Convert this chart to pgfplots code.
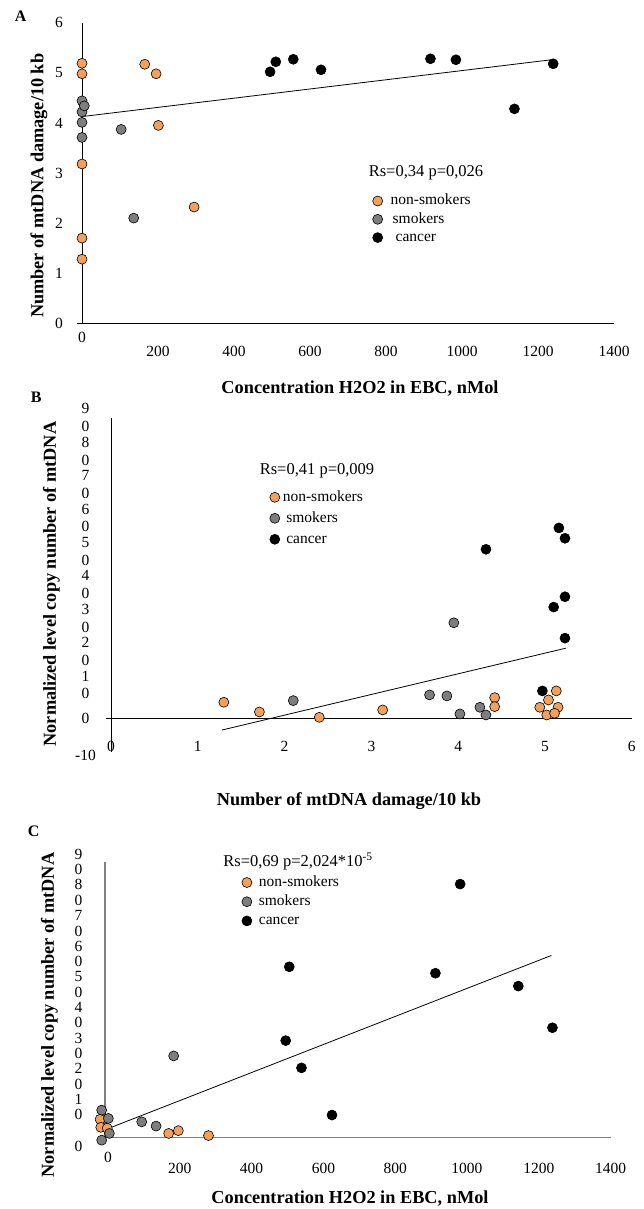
\documentclass[border=0pt]{standalone}
\usepackage{fontspec}
\setmainfont{Liberation Serif}
\usepackage{pgfplots}
\pgfplotsset{compat=1.18}
\definecolor{nsmc}{RGB}{244,160,88}
\definecolor{smkc}{RGB}{125,125,125}
\definecolor{axg}{RGB}{128,128,128}
\newcommand{\tf}{\fontsize{15.5}{17.7}\selectfont}
\newcommand{\tfc}{\fontsize{15.5}{15.5}\selectfont}
\newcommand{\lf}{\fontsize{15.5}{17}\selectfont}
\newcommand{\rf}{\fontsize{16.5}{19}\selectfont}
\newcommand{\hf}{\fontsize{18.3}{21}\selectfont\bfseries}
\pgfplotsset{
 myax/.style={scale only axis, clip=false,
   major tick length=0pt,
   hide obscured x ticks=false, hide obscured y ticks=false,
   /pgf/number format/assume math mode=true, /pgf/number format/1000 sep={},
   tick label style={font=\tf},
   legend cell align=left,
   legend style={draw=none, fill=none, inner sep=0pt, font=\lf,
     nodes={inner sep=0pt, text height=10.5pt, text depth=3pt}},
 },
 nolinearrows/.style={
   axis line style={-,line width=#1},
   x axis line style={-}, y axis line style={-},
   every inner x axis line/.append style={-},
   every inner y axis line/.append style={-},
   every outer x axis line/.append style={-},
   every outer y axis line/.append style={-},
 },
 nsm/.style={only marks, mark=*, mark size=5pt,
   mark options={fill=nsmc, draw=black, line width=0.6pt},
   legend image code/.code={\draw[##1] plot coordinates {(0pt,0pt)};}},
 smk/.style={only marks, mark=*, mark size=5pt,
   mark options={fill=smkc, draw=black, line width=0.6pt},
   legend image code/.code={\draw[##1] plot coordinates {(0pt,0pt)};}},
 cnc/.style={only marks, mark=*, mark size=5pt,
   mark options={fill=black, draw=black, line width=0.6pt},
   legend image code/.code={\draw[##1] plot coordinates {(0pt,0pt)};}},
 trend/.style={black, line width=0.8pt, no marks, forget plot},
}
\begin{document}
\begin{tikzpicture}
\path[use as bounding box] (0pt,0pt) rectangle (644pt,-1209pt);

% ---------------- Panel A ----------------
\begin{axis}[myax, at={(76.7pt,-323.3pt)}, anchor=south west,
 width=537.3pt, height=300.6pt,
 xmin=-14, xmax=1400, ymin=0, ymax=6,
 axis x line=middle, axis y line=middle,
 nolinearrows=0.8pt,
 xtick={200,400,...,1400}, ytick={0,1,...,6},
 extra x ticks={0}, extra x tick labels={0},
 extra x tick style={xticklabel style={yshift=14pt}},
 xticklabel style={anchor=center, yshift=-28pt},
 yticklabel style={anchor=center, xshift=-23pt},
 legend style={at={(0.5505,0.346)}, anchor=west, row sep=4.8pt},
]
\addplot[trend] coordinates {(4,4.13) (1235,5.26)};
\addplot[nsm] coordinates {(0,5.19) (0,4.98) (0,3.18) (0,1.70) (0,1.28) (165,5.17) (195,4.98) (201,3.95) (295,2.32)};
\addlegendentry{\hspace*{8pt}non-smokers}
\addplot[smk] coordinates {(0,4.44) (0,4.22) (0,4.01) (0,3.71) (103,3.87) (136,2.10) (6,4.34)};
\addlegendentry{\hspace*{10pt}smokers}
\addplot[cnc] coordinates {(495,5.02) (510,5.22) (556,5.27) (629,5.06) (917,5.28) (984,5.26) (1138,4.28) (1240,5.18)};
\addlegendentry{\hspace*{13pt}cancer}
\end{axis}

% ---------------- Panel B ----------------
\begin{axis}[myax, at={(106.2pt,-751.7pt)}, anchor=south west,
 width=525.6pt, height=334pt,
 xmin=-0.055, xmax=6, ymin=-10, ymax=90,
 axis x line=middle, axis y line=middle,
 nolinearrows=0.8pt,
 xtick={0,1,...,6},
 ytick={0,10,...,90},
 yticklabels={0,{1\\0},{2\\0},{3\\0},{4\\0},{5\\0},{6\\0},{7\\0},{8\\0},{9\\0}},
 extra y ticks={-10}, extra y tick labels={-10},
 extra y tick style={yticklabel style={yshift=-4pt}},
 xticklabel style={anchor=center, yshift=-28pt},
 yticklabel style={anchor=center, align=center, xshift=-25.5pt},
 legend style={at={(0.3109,0.6988)}, anchor=west, row sep=7.5pt},
]
\addplot[trend] coordinates {(1.28,-3.5) (5.24,21.0)};
\addplot[nsm] coordinates {(1.30,4.8) (1.71,1.9) (2.40,0.3) (3.13,2.5) (4.42,6.2) (4.42,3.5) (5.13,8.2) (5.04,5.5) (4.94,3.3) (5.15,3.3) (5.02,1.0) (5.11,1.5)};
\addlegendentry{\hspace*{3pt}non-smokers}
\addplot[smk] coordinates {(2.10,5.3) (3.67,7.0) (3.87,6.7) (3.95,28.6) (4.02,1.3) (4.25,3.3) (4.32,1.0)};
\addlegendentry{\hspace*{6.5pt}smokers}
\addplot[cnc] coordinates {(4.32,50.6) (4.97,8.2) (5.10,33.3) (5.16,57.0) (5.23,53.9) (5.23,36.4) (5.23,24.0)};
\addlegendentry{\hspace*{6.5pt}cancer}
\end{axis}

% ---------------- Panel C ----------------
\begin{axis}[myax, at={(105.1pt,-1137.7pt)}, anchor=south west,
 width=505.5pt, height=275.7pt,
 xmin=-8, xmax=1400, ymin=0, ymax=90,
 axis x line=bottom, axis y line=left,
 nolinearrows=1.3pt,
 axis line style={axg},
 xtick={200,400,...,1400},
 extra x ticks={0}, extra x tick labels={0},
 extra x tick style={xticklabel style={yshift=11pt}},
 ytick={10,20,...,90},
 yticklabels={{1\\0},{2\\0},{3\\0},{4\\0},{5\\0},{6\\0},{7\\0},{8\\0},{9\\0}},
 extra y ticks={0}, extra y tick labels={0},
 extra y tick style={yticklabel style={yshift=-9pt}},
 xticklabel style={anchor=center, yshift=-31pt},
 yticklabel style={anchor=center, align=center, xshift=-26.5pt, font=\tfc},
 legend style={at={(0.2702,0.856)}, anchor=west, row sep=5.7pt},
]
\addplot[trend] coordinates {(3,3.1) (1235,59.5)};
\addplot[nsm] coordinates {(-22,6.0) (-20,3.4) (-2,3.1) (169,1.4) (196,2.3) (280,0.7)};
\addlegendentry{\hspace*{7pt}non-smokers}
\addplot[smk] coordinates {(-17.5,9.0) (1,6.3) (4,1.4) (-17.5,-0.8) (94,5.2) (134,3.8) (183,26.7)};
\addlegendentry{\hspace*{7pt}smokers}
\addplot[cnc] coordinates {(495,31.7) (505,55.8) (539,22.8) (624,7.4) (912,53.7) (981,82.8) (1143,49.5) (1238,35.9)};
\addlegendentry{\hspace*{7pt}cancer}
\end{axis}

% ---------------- texts ----------------
\node[font=\fontsize{16}{19}\selectfont\bfseries] at (20.6pt,-16.7pt) {A};
\node[font=\fontsize{16}{19}\selectfont\bfseries] at (36.2pt,-397.3pt) {B};
\node[font=\fontsize{16}{19}\selectfont\bfseries] at (33.7pt,-831.7pt) {C};

\node[font=\rf] at (426pt,-172.7pt) {Rs=0,34 p=0,026};
\node[font=\rf] at (317pt,-470.7pt) {Rs=0,41 p=0,009};
\node[font=\rf] at (298pt,-861.7pt) {Rs=0,69 p=2,024*10\textsuperscript{-5}};

\node[font=\hf] at (360pt,-388.3pt) {Concentration H2O2 in EBC, nMol};
\node[font=\hf, rotate=90] at (39pt,-185.8pt) {Number of mtDNA damage/10 kb};
\node[font=\hf] at (349pt,-800.7pt) {Number of mtDNA damage/10 kb};
\node[font=\hf, rotate=90] at (51.4pt,-584pt) {Normalized level copy number of mtDNA};
\node[font=\hf] at (350pt,-1198.3pt) {Concentration H2O2 in EBC, nMol};
\node[font=\hf, rotate=90] at (49.4pt,-1015pt) {Normalized level copy number of mtDNA};
\end{tikzpicture}
\end{document}
